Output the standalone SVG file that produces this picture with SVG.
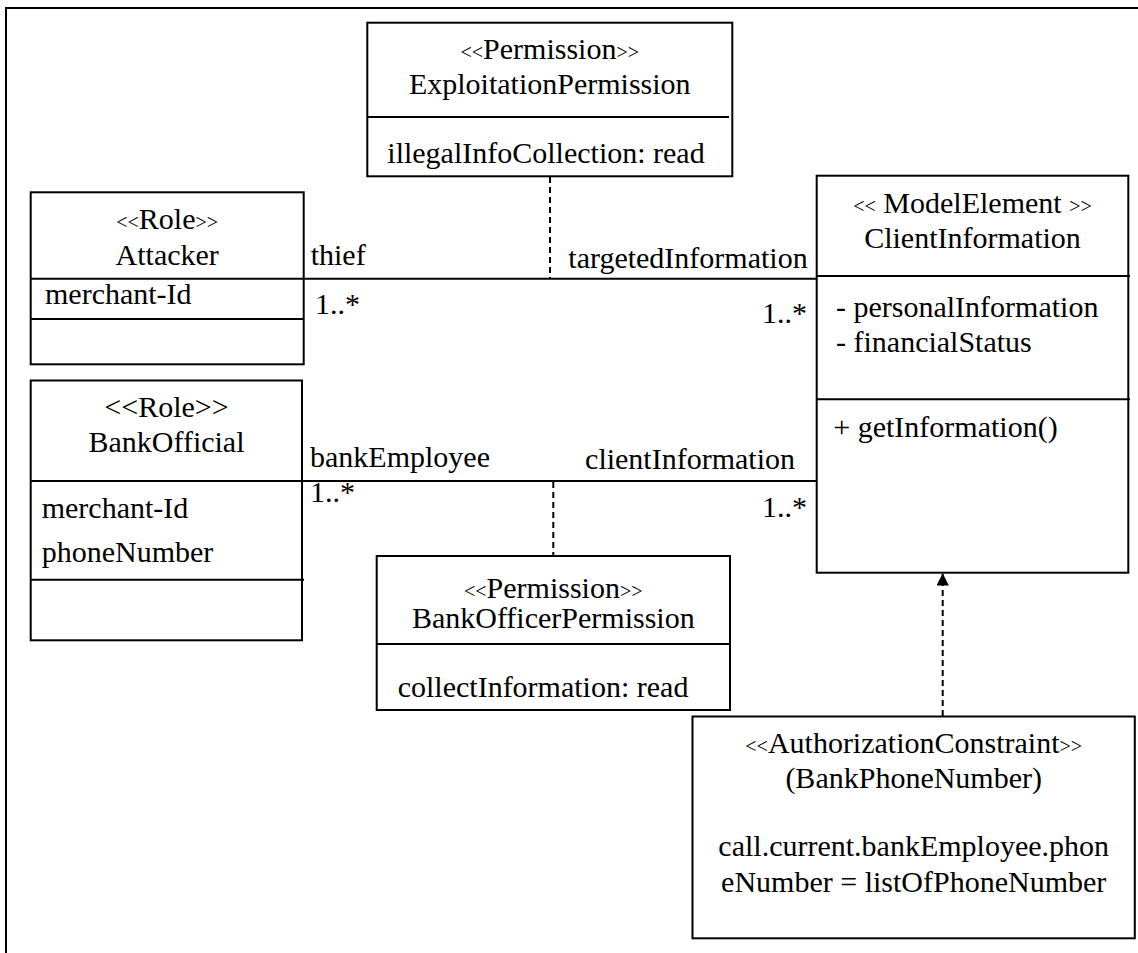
<svg xmlns="http://www.w3.org/2000/svg" width="1138" height="953" viewBox="0 0 1138 953">
<style>
text{font-family:"Liberation Serif","Times New Roman",serif;font-size:30px;fill:#000}
.m{text-anchor:middle}
.s{font-size:20px}
.box{fill:#fff;stroke:#000;stroke-width:2}
.ln{stroke:#000;stroke-width:2;fill:none}
.dash{stroke:#000;stroke-width:2;fill:none;stroke-dasharray:6 4}
</style>
<defs>
<marker id="arr" viewBox="0 0 14 16" refX="13" refY="7" markerWidth="14" markerHeight="14" markerUnits="userSpaceOnUse" orient="auto">
<path d="M0,0 L14,7 L0,14 z" fill="#000"/>
</marker>
</defs>
<rect width="1138" height="953" fill="#fff"/>
<path class="ln" d="M6,953 V8 H1138"/>

<g id="connectors">
<line class="ln" x1="303" y1="278.7" x2="818" y2="278.7"/>
<line class="ln" x1="302" y1="481" x2="818" y2="481"/>
<line class="dash" x1="550" y1="177" x2="550" y2="278"/>
<line class="dash" x1="553.3" y1="482" x2="553.3" y2="556"/>
<line class="dash" x1="942.7" y1="716" x2="942.7" y2="574" marker-end="url(#arr)"/>
<text x="310.7" y="265">thief</text>
<text x="315" y="314">1..*</text>
<text x="568.3" y="268.3">targetedInformation</text>
<text x="807" y="323.3" text-anchor="end">1..*</text>
<text x="310" y="466.7">bankEmployee</text>
<text x="310" y="501.7">1..*</text>
<text x="795" y="468.7" text-anchor="end">clientInformation</text>
<text x="807" y="516.7" text-anchor="end">1..*</text>
</g>

<g id="attacker">
<rect class="box" x="30.7" y="192.3" width="273" height="172"/>
<line class="ln" x1="30.7" y1="278.7" x2="303.7" y2="278.7"/>
<line class="ln" x1="30.7" y1="319" x2="303.7" y2="319"/>
<text class="m" x="167.2" y="229.3"><tspan class="s">&lt;&lt;</tspan>Role<tspan class="s">&gt;&gt;</tspan></text>
<text class="m" x="167.2" y="265">Attacker</text>
<text x="45" y="304.3">merchant-Id</text>
</g>

<g id="exploitationPermission">
<rect class="box" x="367.3" y="22.7" width="365" height="153.6"/>
<line class="ln" x1="367.3" y1="117" x2="729" y2="117"/>
<text class="m" x="549.8" y="59.3"><tspan class="s">&lt;&lt;</tspan>Permission<tspan class="s">&gt;&gt;</tspan></text>
<text class="m" x="549.8" y="94.3">ExploitationPermission</text>
<text x="387.3" y="162.7">illegalInfoCollection: read</text>
</g>

<g id="clientInformation">
<rect class="box" x="816.7" y="175.7" width="311.6" height="397"/>
<line class="ln" x1="816.7" y1="276" x2="1130" y2="276"/>
<line class="ln" x1="816.7" y1="399.3" x2="1130" y2="399.3"/>
<text class="m" x="972.5" y="213.3"><tspan class="s">&lt;&lt;</tspan> ModelElement <tspan class="s">&gt;&gt;</tspan></text>
<text class="m" x="972.5" y="248.3">ClientInformation</text>
<text x="836" y="316.7">- personalInformation</text>
<text x="836" y="351.7">- financialStatus</text>
<text x="833.3" y="436.7">+ getInformation()</text>
</g>

<g id="bankOfficial">
<rect class="box" x="30.7" y="380.5" width="271.3" height="259.8"/>
<line class="ln" x1="30.7" y1="481" x2="302" y2="481"/>
<line class="ln" x1="30.7" y1="579.7" x2="304" y2="579.7"/>
<text class="m" x="166.5" y="416.7">&lt;&lt;Role&gt;&gt;</text>
<text class="m" x="166.5" y="451.7">BankOfficial</text>
<text x="41.7" y="518.3">merchant-Id</text>
<text x="41.7" y="561.7">phoneNumber</text>
</g>

<g id="bankOfficerPermission">
<rect class="box" x="376.7" y="556" width="353.3" height="154"/>
<line class="ln" x1="376.7" y1="644" x2="730" y2="644"/>
<text class="m" x="553.3" y="598.3"><tspan class="s">&lt;&lt;</tspan>Permission<tspan class="s">&gt;&gt;</tspan></text>
<text class="m" x="553.3" y="628.3">BankOfficerPermission</text>
<text x="397.7" y="696.7">collectInformation: read</text>
</g>

<g id="authorizationConstraint">
<rect class="box" x="692.5" y="716.5" width="442.3" height="221.8"/>
<text class="m" x="913.7" y="752.7"><tspan class="s">&lt;&lt;</tspan>AuthorizationConstraint<tspan class="s">&gt;&gt;</tspan></text>
<text class="m" x="913.7" y="788.3">(BankPhoneNumber)</text>
<text class="m" x="913.7" y="856">call.current.bankEmployee.phon</text>
<text class="m" x="913.7" y="891.7">eNumber = listOfPhoneNumber</text>
</g>
</svg>
